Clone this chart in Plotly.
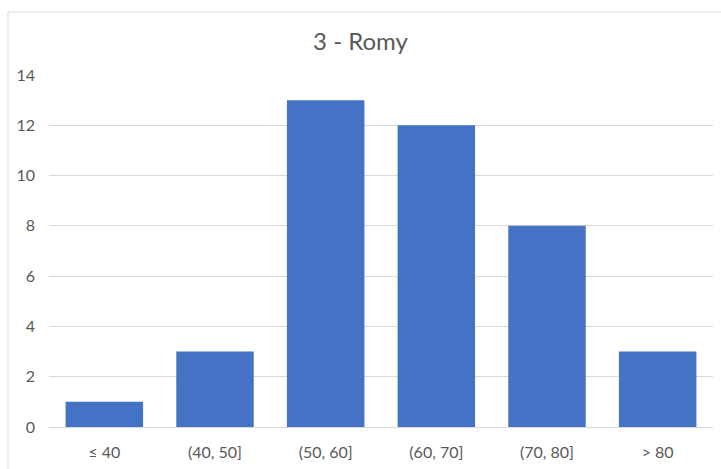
import plotly.graph_objects as go

# Score bands and how many results fall into each
categories = ["≤ 40", "(40, 50]", "(50, 60]", "(60, 70]", "(70, 80]", "> 80"]
counts = [1, 3, 13, 12, 8, 3]
y_ticks = [0, 2, 4, 6, 8, 10, 12, 14]

W, H = 721, 469
ML, MR, MT, MB = 49, 8, 75, 42
plot_w = W - ML - MR
plot_h = H - MT - MB

fig = go.Figure(
    go.Bar(
        x=categories,
        y=counts,
        marker=dict(color="#4472C4", line=dict(width=0)),
        hoverinfo="x+y",
    )
)

text_color = "#595959"
font_family = "Lato, 'Open Sans', sans-serif"

# light chart-area frame around the whole figure
fig.add_shape(
    type="rect",
    xref="paper", yref="paper",
    x0=(8 - ML) / plot_w, x1=(W + 5 - ML) / plot_w,
    y0=(H - MB - (H + 5)) / plot_h, y1=(H - MB - 12) / plot_h,
    line=dict(color="#d9d9d9", width=1),
    fillcolor="rgba(0,0,0,0)",
    layer="below",
)

fig.update_layout(
    width=W,
    height=H,
    margin=dict(l=ML, r=MR, t=MT, b=MB),
    paper_bgcolor="white",
    plot_bgcolor="white",
    bargap=0.3,
    showlegend=False,
    title=dict(
        text="3 - Romy",
        x=0.5,
        xanchor="center",
        y=1 - 42 / H,
        yanchor="middle",
        font=dict(family=font_family, size=24, color=text_color),
    ),
    font=dict(family=font_family, size=16, color=text_color),
    xaxis=dict(
        showgrid=False,
        showline=True,
        linecolor="#d9d9d9",
        linewidth=1,
        ticks="",
        tickfont=dict(size=16, color=text_color),
        ticklabelstandoff=11,
        fixedrange=True,
    ),
    yaxis=dict(
        range=[0, 14],
        tickvals=y_ticks,
        showgrid=True,
        gridcolor="#d9d9d9",
        gridwidth=1,
        zeroline=False,
        showline=False,
        ticks="",
        tickfont=dict(size=16, color=text_color),
        ticklabelstandoff=13,
        fixedrange=True,
    ),
)

fig.write_html("out.html")
